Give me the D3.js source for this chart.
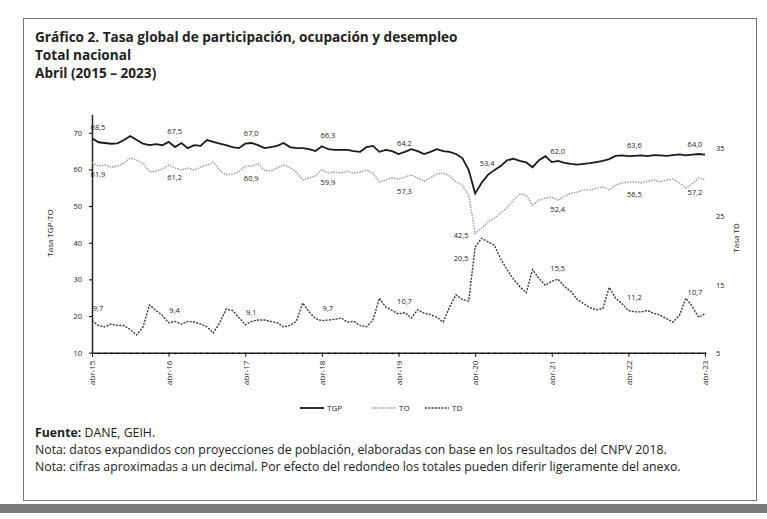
<!DOCTYPE html>
<html>
<head>
<meta charset="utf-8">
<script src="https://cdn.jsdelivr.net/npm/d3@7"></script>
<style>
  body { margin: 0; background: #fff; }
  text { font-family: "Open Sans", sans-serif; fill: #222; }
</style>
</head>
<body>
<script>
// monthly series, abr-15 .. abr-23
const tgp = [68.5, 67.4, 67.2, 67.0, 67.1, 68.0, 69.1, 68.0, 67.0, 66.6, 66.9, 66.6,
  67.5, 66.1, 67.2, 65.8, 66.6, 66.4, 68.0, 67.5, 67.0, 66.6, 66.1, 65.8,
  67.0, 67.2, 66.6, 65.8, 66.1, 66.4, 67.2, 66.1, 65.8, 65.8, 65.5, 65.0,
  66.3, 65.5, 65.3, 65.3, 65.3, 65.0, 64.8, 66.1, 66.4, 64.8, 65.3, 65.0,
  64.2, 64.8, 65.5, 65.0, 64.2, 64.8, 65.5, 65.0, 64.8, 64.2, 63.1, 59.8,
  53.4, 56.3, 58.5, 59.8, 60.9, 62.5, 62.9, 62.3, 61.9, 60.6, 62.5, 63.6,
  62.0, 62.3, 61.8, 61.5, 61.3, 61.5, 61.7, 62.0, 62.3, 62.8, 63.7, 63.8,
  63.6, 63.7, 63.8, 63.6, 63.9, 63.8, 63.7, 63.9, 64.1, 63.8, 64.0, 64.2,
  64.0]
const to = [61.9, 60.9, 61.2, 60.6, 60.9, 61.7, 63.1, 62.5, 61.7, 59.3, 59.5, 60.1,
  61.2, 60.4, 59.8, 60.4, 59.8, 60.6, 61.2, 62.0, 59.8, 58.5, 58.7, 59.3,
  60.9, 60.9, 61.5, 59.8, 59.5, 60.4, 61.2, 60.6, 59.3, 57.1, 57.7, 58.2,
  59.9, 59.0, 59.3, 59.0, 59.5, 59.0, 59.3, 59.8, 59.0, 56.6, 57.1, 57.7,
  57.3, 57.9, 58.5, 57.7, 56.8, 57.7, 58.7, 59.0, 58.2, 56.6, 55.7, 53.0,
  42.5, 44.0, 45.6, 46.7, 48.1, 49.5, 51.6, 53.3, 53.0, 50.3, 51.6, 52.2,
  52.4, 51.6, 52.7, 53.5, 53.8, 54.4, 54.4, 54.9, 55.2, 54.4, 55.7, 56.3,
  56.5, 56.6, 56.3, 56.8, 57.1, 56.6, 57.1, 57.4, 56.3, 54.9, 56.0, 57.7,
  57.2]
const td = [9.7, 9.0, 8.8, 9.2, 9.0, 9.0, 8.4, 7.6, 8.8, 12.0, 11.2, 10.5,
  9.4, 9.6, 9.2, 9.6, 9.5, 9.2, 8.8, 7.9, 9.4, 11.4, 11.2, 10.2,
  9.1, 9.6, 9.8, 9.8, 9.6, 9.4, 8.8, 9.0, 9.6, 12.3, 11.0, 10.0,
  9.7, 9.8, 9.9, 10.1, 9.5, 9.6, 9.0, 8.8, 9.8, 13.0, 11.7, 11.2,
  10.7, 10.9, 10.1, 11.3, 10.8, 10.6, 10.2, 9.5, 11.7, 13.5, 12.8, 12.6,
  20.5, 21.8, 21.3, 20.8, 18.8, 17.2, 15.8, 14.7, 13.8, 17.2, 15.9, 14.9,
  15.5, 15.8, 14.7, 14.0, 12.8, 12.2, 11.6, 11.3, 11.5, 14.6, 13.0, 12.2,
  11.2, 11.0, 11.0, 11.2, 10.8, 10.5, 10.0, 9.5, 10.5, 13.0, 11.8, 10.2,
  10.7]
const yearLabels = ["abr-15", "abr-16", "abr-17", "abr-18", "abr-19", "abr-20", "abr-21", "abr-22", "abr-23"]
const leftTicks = [10, 20, 30, 40, 50, 60, 70]
const rightTicks = [5, 15, 25, 35]
const titleLines = ["Gráfico 2. Tasa global de participación, ocupación y desempleo", "Total nacional", "Abril (2015 – 2023)"]

const svg = d3.select("body").append("svg").attr("width", 767).attr("height", 519)

// frame and scan band
svg.append("rect").attr("x", 23.5).attr("y", 18.5).attr("width", 733).attr("height", 482)
  .attr("fill", "none").attr("stroke", "#777").attr("stroke-width", 1)
svg.append("rect").attr("x", 0).attr("y", 504).attr("width", 767).attr("height", 9)
  .attr("fill", "#7a7a7a")

svg.selectAll("text.title").data(titleLines).enter().append("text")
  .attr("x", 35).attr("y", (d, i) => 42 + i * 18)
  .attr("font-size", 13.6).attr("font-weight", "bold").text(d => d)

let x = d3.scaleLinear().domain([0, tgp.length - 1]).range([92, 705])
let yL = d3.scaleLinear().domain([10, 75]).range([352.7, 114.4])
let yR = d3.scaleLinear().domain([5, 40]).range([352.7, 114.4])

// axes
let axL = svg.append("g").attr("transform", "translate(92,0)")
  .call(d3.axisLeft(yL).tickValues(leftTicks).tickSize(3).tickSizeOuter(0))
axL.selectAll("text").attr("font-size", 7.5).attr("font-family", "Open Sans").attr("dx", -4)
axL.select(".domain").attr("stroke", "#222").attr("stroke-width", 1.5)

let axR = svg.append("g").attr("transform", "translate(709,0)")
  .call(d3.axisRight(yR).tickValues(rightTicks).tickSize(0))
axR.select(".domain").remove()
axR.selectAll("text").attr("font-size", 7.5).attr("font-family", "Open Sans").attr("dx", 4)

svg.append("g").attr("transform", "translate(0,352.7)")
  .call(d3.axisBottom(x).tickValues(d3.range(0, tgp.length)).tickSize(1.5).tickFormat(""))
  .call(g => g.select(".domain").attr("stroke", "#222").attr("stroke-width", 1.5))
let axB = svg.append("g").attr("transform", "translate(0,352.7)")
  .call(d3.axisBottom(x).tickValues(d3.range(0, tgp.length, 12)).tickSize(4)
    .tickFormat((d, i) => yearLabels[i]))
axB.select(".domain").remove()
axB.selectAll("text").attr("font-size", 8).attr("font-family", "Open Sans")
  .attr("transform", "rotate(-90)").attr("text-anchor", "end")
  .attr("x", -8).attr("y", 0).attr("dy", "0.35em")

svg.append("text").attr("transform", "translate(53,233) rotate(-90)")
  .attr("text-anchor", "middle").attr("font-size", 8).text("Tasa TGP-TO")
svg.append("text").attr("transform", "translate(739,238) rotate(-90)")
  .attr("text-anchor", "middle").attr("font-size", 8).text("Tasa TD")

// lines
let series = [
  { name: "TGP", data: tgp, y: yL, stroke: "#1a1a1a", width: 1.8, dash: null },
  { name: "TO", data: to, y: yL, stroke: "#9a9a9a", width: 1.4, dash: "1.5,1.2" },
  { name: "TD", data: td, y: yR, stroke: "#3a3a3a", width: 1.4, dash: "2,1.3" }
]
series.forEach(s => {
  let line = d3.line().x((d, i) => x(i)).y(d => s.y(d))
  svg.append("path").datum(s.data).attr("d", line)
    .attr("fill", "none").attr("stroke", s.stroke).attr("stroke-width", s.width)
    .attr("stroke-dasharray", s.dash)
})

// april labels
let fmt = v => d3.format(".1f")(v).replace(".", ",")
let aprils = d3.range(0, tgp.length, 12)
let last = tgp.length - 1
let labelSpecs = [
  { data: tgp, y: yL, dx: 6, dy: -8, lastDy: -8 },
  { data: to, y: yL, dx: 6, dy: 15, lastDy: 15 },
  { data: td, y: yR, dx: 6, dy: -10, lastDy: -19 }
]
labelSpecs.forEach((s, k) => {
  svg.selectAll("text.lab" + k).data(aprils).enter().append("text")
    .attr("x", i => x(i) + (i == 60 ? (k == 0 ? 12 : -14) : (i == last ? -10 : s.dx)))
    .attr("y", i => s.y(s.data[i]) + (i == 60 ? (k == 0 ? -28 : (k == 2 ? 14 : 4)) : (i == last ? s.lastDy : s.dy)))
    .attr("text-anchor", "middle").attr("font-size", 7.5).attr("fill", k == 1 ? "#777" : "#222")
    .text(i => fmt(s.data[i]))
})

// legend
let legX = [0, 72, 125]
let leg = svg.append("g").attr("transform", "translate(300,408)")
series.forEach((s, i) => {
  let g = leg.append("g").attr("transform", "translate(" + legX[i] + ",0)")
  g.append("line").attr("x1", 0).attr("x2", 24).attr("y1", 0).attr("y2", 0)
    .attr("stroke", s.stroke).attr("stroke-width", s.width).attr("stroke-dasharray", s.dash)
  g.append("text").attr("x", 27).attr("y", 3).attr("font-size", 8).text(s.name)
})

// notes
svg.append("text").attr("x", 35).attr("y", 437).attr("font-size", 12.3)
  .call(t => { t.append("tspan").attr("font-weight", "bold").text("Fuente: "); t.append("tspan").text("DANE, GEIH.") })
svg.append("text").attr("x", 35).attr("y", 454).attr("font-size", 12.3)
  .text("Nota: datos expandidos con proyecciones de población, elaboradas con base en los resultados del CNPV 2018.")
svg.append("text").attr("x", 35).attr("y", 471).attr("font-size", 12.3)
  .text("Nota: cifras aproximadas a un decimal. Por efecto del redondeo los totales pueden diferir ligeramente del anexo.")
</script>
</body>
</html>
